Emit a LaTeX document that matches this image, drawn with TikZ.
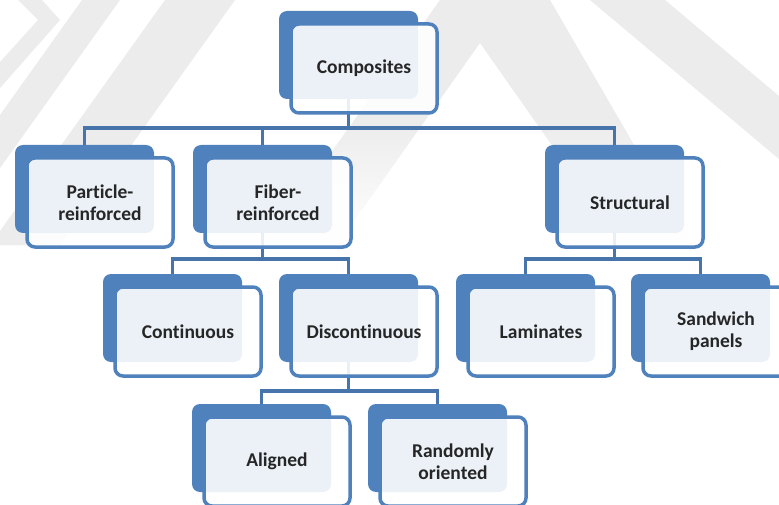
\documentclass[tikz,border=0pt]{standalone}
\usepackage{fontspec}
\setmainfont{Carlito}[Ligatures={NoCommon,NoContextual}]
\usetikzlibrary{backgrounds}
\definecolor{sablue}{HTML}{4F81BD}
\definecolor{conblue}{HTML}{4874AC}
\definecolor{wmgray}{HTML}{ECECEC}
\tikzset{
  backbox/.style={fill=sablue, rounded corners=8pt, minimum width=139pt, minimum height=88pt,
    anchor=north west, inner sep=0pt, outer sep=0pt},
  frontbox/.style={draw=sablue, line width=3.5pt, fill=white, fill opacity=0.89, text opacity=1,
    rounded corners=8pt, minimum width=146pt, minimum height=89pt, anchor=north west,
    align=center, inner sep=0pt, outer sep=0pt,
    font=\fontsize{19.5}{22}\selectfont\bfseries, text=black!85},
  conn/.style={draw=conblue, line width=3.3pt, line join=miter},
  wm/.style={fill=wmgray, draw=none},
}
\newcommand\blockpair[4]{%
  \node[backbox] (#1b) at ({#2-12},{#3-13}) {};
  \node[frontbox] (#1) at (#2,#3) {#4};
}
\begin{document}
\begin{tikzpicture}[x=1pt,y=-1pt]
\useasboundingbox (0,0) rectangle (779,505);
\clip (0,0) rectangle (779,505);

\blockpair{comp}{291}{24}{Composites}
\blockpair{part}{27}{158}{Particle-\\reinforced}
\blockpair{fib}{205}{158}{Fiber-\\reinforced}
\blockpair{str}{557}{158}{Structural}
\blockpair{cont}{115}{287}{Continuous}
\blockpair{disc}{291}{287}{Discontinuous}
\blockpair{lam}{468}{287}{Laminates}
\blockpair{sand}{643}{287}{Sandwich\\panels}
\blockpair{ali}{204}{417}{Aligned}
\blockpair{rand}{380}{417}{Randomly\\oriented}

\begin{pgfonlayer}{background}
  \fill[white] (0,0) rectangle (779,505);
  % watermark
  \path[wm] (18,0) -- (42,0) -- (60,20) -- (0,88) -- (0,62) -- (38,20) -- cycle;
  \path[wm] (82,0) -- (120,0) -- (0,168) -- (0,115) -- cycle;
  \path[wm] (165,0) -- (235,0) -- (60,245) -- (0,245) -- (0,231) -- cycle;
  \shade[top color=wmgray, bottom color=white, middle color=wmgray]
        (440,0) -- (550,0) -- (692,245) -- (622,245) -- (480,43) -- (337,245) -- (265,245) -- cycle;
  \path[wm] (590,0) -- (665,0) -- (779,96) -- (779,159) -- cycle;
  % connectors
  \coordinate (bus1) at (0,128);
  \coordinate (bus2) at (0,259);
  \coordinate (bus3) at (0,391);
  \draw[conn] (compb.center) -- (compb.center |- bus1) -| (partb.north);
  \draw[conn] (compb.center) -- (compb.center |- bus1) -| (fibb.north);
  \draw[conn] (compb.center) -- (compb.center |- bus1) -| (strb.north);
  \draw[conn] (fibb.center) -- (fibb.center |- bus2) -| (contb.north);
  \draw[conn] (fibb.center) -- (fibb.center |- bus2) -| (discb.north);
  \draw[conn] (strb.center) -- (strb.center |- bus2) -| (lamb.north);
  \draw[conn] (strb.center) -- (strb.center |- bus2) -| (sandb.north);
  \draw[conn] (discb.center) -- (discb.center |- bus3) -| (alib.north);
  \draw[conn] (discb.center) -- (discb.center |- bus3) -| (randb.north);
\end{pgfonlayer}
\end{tikzpicture}
\end{document}
